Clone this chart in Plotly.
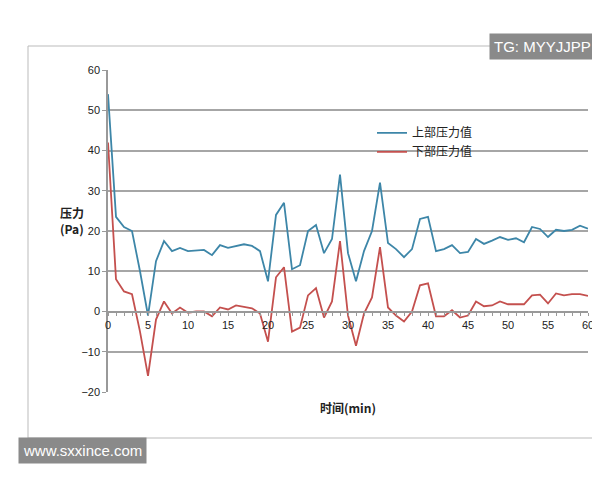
import plotly.graph_objects as go

minutes = list(range(61))
upper = [54, 23.5, 21, 20, 10, -1, 12.5, 17.5, 15, 15.8, 15, 15.2, 15.3, 14, 16.5, 15.8, 16.3, 16.7, 16.3, 15,
         7.5, 24, 27, 10.5, 11.5, 20, 21.5, 14.5, 18, 34, 14.5, 7.5, 15, 20, 32, 17, 15.5, 13.5, 15.5, 23,
         23.5, 15, 15.5, 16.5, 14.5, 14.8, 18, 16.8, 17.6, 18.5, 17.8, 18.2, 17.2, 21, 20.5, 18.5, 20.3, 20, 20.3, 21.3, 20.6]
lower = [42, 8, 5, 4.3, -5, -16, -2, 2.5, -0.5, 1, -0.3, 0, 0, -1.2, 1, 0.5, 1.5, 1.2, 0.8, -0.5,
         -7.5, 8.5, 11, -5, -4, 4, 5.8, -1.5, 2.5, 17.5, -1, -8.5, -0.5, 3.5, 16, 1, -1, -2.5, 0, 6.5,
         7, -1.2, -1.2, 0.3, -1.5, -1, 2.5, 1.3, 1.5, 2.5, 1.8, 1.8, 1.8, 4, 4.2, 2, 4.5, 4, 4.3, 4.3, 3.9]
names = ["上部压力值", "下部压力值"]
colors = ["#3d86a8", "#c4504e"]

font = "Noto Sans CJK SC"
fig = go.Figure()
for y, n, c in zip([upper, lower], names, colors):
    fig.add_trace(go.Scatter(x=minutes, y=y, name=n, mode="lines", line=dict(color=c, width=1.8)))

fig.update_layout(
    width=600, height=480, paper_bgcolor="white", plot_bgcolor="white",
    margin=dict(l=100, r=20, t=62, b=96, autoexpand=False),
    font=dict(family=font, size=11, color="#222"),
    legend=dict(x=0.55, y=0.85, xanchor="left", yanchor="top", bgcolor="rgba(0,0,0,0)",
                font=dict(size=12), tracegroupgap=22),
    xaxis=dict(range=[0, 60], dtick=5, anchor="free", position=(384 - 304) / 322,
               showgrid=False, showline=True, linecolor="#999", linewidth=1.5,
               ticks="outside", ticklen=3, tickcolor="#999",
               minor=dict(dtick=1, ticks="outside", ticklen=3, tickcolor="#999"),
               zeroline=False, tickfont=dict(size=11, family="Liberation Sans")),
    yaxis=dict(range=[-20, 60], dtick=10, showgrid=True, gridcolor="#a6a6a6", gridwidth=1.5,
               showline=True, linecolor="#999", linewidth=1.5, zeroline=False,
               ticks="outside", ticklen=4, tickcolor="#999",
               tickfont=dict(size=11, family="Liberation Sans")),
)
fig.add_shape(type="rect", xref="paper", yref="paper",
              x0=(20 - 100) / 480, x1=(585 - 100) / 480, y0=(384 - 430) / 322, y1=(384 - 38) / 322,
              line=dict(color="#bbb", width=1), layer="below")
fig.add_annotation(xref="paper", yref="paper", x=(50 - 100) / 480, y=(384 - 212) / 322,
                   text="<b>压力<br>(Pa)</b>", showarrow=False, font=dict(size=12), align="left")
fig.add_annotation(xref="paper", yref="paper", x=0.5, y=(384 - 410) / 322,
                   text="<b>时间(min)</b>", showarrow=False, font=dict(size=12))
fig.add_annotation(xref="paper", yref="paper", x=(588 - 100) / 480, y=(384 - 25) / 322,
                   xanchor="right", text="TG: MYYJJPP", showarrow=False, bgcolor="#8a8a8a",
                   font=dict(size=15, color="white", family="Liberation Sans"), borderpad=4)
fig.add_annotation(xref="paper", yref="paper", x=(10 - 100) / 480, y=(384 - 456) / 322,
                   xanchor="left", text="www.sxxince.com", showarrow=False, bgcolor="#8a8a8a",
                   font=dict(size=15, color="white", family="Liberation Sans"), borderpad=4)
fig.write_html("out.html")
